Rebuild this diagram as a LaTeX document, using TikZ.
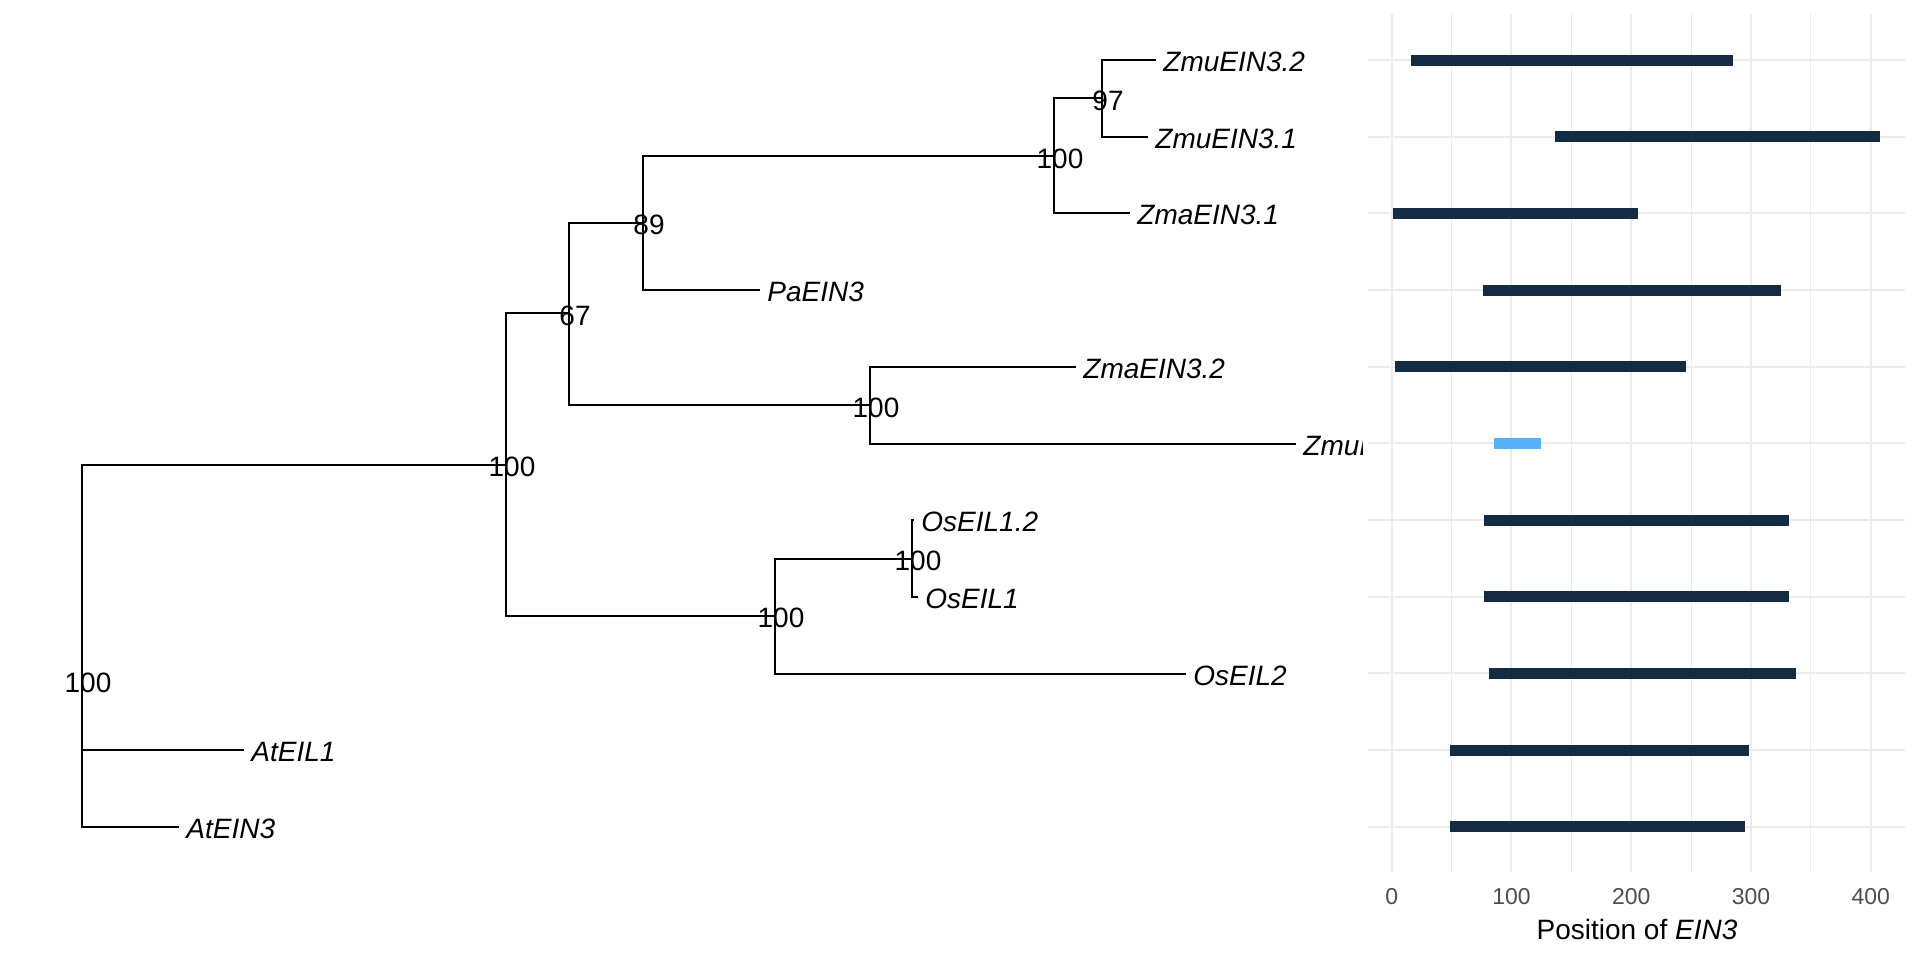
\documentclass[tikz,border=0pt]{standalone}
\usepackage{fontspec}
\setmainfont{Liberation Sans}
\usetikzlibrary{positioning}
\definecolor{barlow}{HTML}{132B43}
\definecolor{barhigh}{HTML}{56B1F7}
\definecolor{gridgray}{HTML}{EBEBEB}
\definecolor{ticktext}{HTML}{4D4D4D}
\tikzset{
x=0.5pt, y=-0.5pt, % one unit is one pixel of the image, y runs downwards
branch/.style={line width=0.9pt, to path={|- (\tikztotarget)}}, % elbow edge of the tree
tip/.style={anchor=base west, inner sep=0pt, xshift=3.5pt, yshift=-5.8pt, font=\fontsize{14}{16}\selectfont\itshape}, % leaf name
boot/.style={inner sep=0pt, xshift=3pt, yshift=-1.25pt, font=\fontsize{14}{16}\selectfont}, % support value at a node
bar/.style={line width=5.5pt, barlow}, % segment in the right panel
majorgrid/.style={line width=1pt, gridgray},
minorgrid/.style={line width=0.5pt, gridgray},
ticklab/.style={inner sep=0pt, text=ticktext, font=\fontsize{11.5}{13}\selectfont},
}

\begin{document}
\begin{tikzpicture}
\useasboundingbox[fill=white] (0,0) rectangle (1920,960);

% right panel: grid, bars and axis
\begin{scope}[xshift=695.85pt, x=0.59875pt]
  \foreach \g in {50,150,250,350} \draw[minorgrid] (\g,14) -- (\g,872);
  \foreach \g in {0,100,...,400} {
    \draw[majorgrid] (\g,14) -- (\g,872);
    \node[ticklab] (tick\g) at (\g,897) {\g};
  }
  \foreach \i in {0,...,10} \draw[majorgrid] (-19.4,60+76.667*\i) -- (428.6,60+76.667*\i);
  \foreach \i/\s/\e in {0/16/285, 1/136/408, 2/1/206, 3/76/325, 4/3/246, 6/77/332, 7/77/332, 8/81/338, 9/49/298, 10/49/295}
    \draw[bar] (\s,60+76.667*\i) -- (\e,60+76.667*\i);
  \draw[bar, barhigh] (85,443.3) -- (125,443.3);
\end{scope}
\node[font=\fontsize{14}{16}\selectfont, inner sep=0pt] (xtitle) at (1637,929) {Position of \textit{EIN3}};

% inner nodes of the tree
\coordinate (root) at (82,680.7);
\coordinate (big) at (506,464.7);
\coordinate (n67) at (569,313.3);
\coordinate (n89) at (643,222.7);
\coordinate (nZm) at (1054,156);
\coordinate (n97) at (1102,98.3);
\coordinate (nZ2) at (870,405.3);
\coordinate (nOs) at (775,615.7);
\coordinate (nOs1) at (912,558.7);
% leaves
\coordinate (zmu32) at (1156,60);
\coordinate (zmu31) at (1148,136.7);
\coordinate (zma31) at (1130,213.3);
\coordinate (pa) at (760,290);
\coordinate (zma32) at (1076,367);
\coordinate (zmu33) at (1296,443.7);
\coordinate (os12) at (914,520.3);
\coordinate (os1) at (918,597);
\coordinate (os2) at (1186,673.7);
\coordinate (at1) at (244,750.3);
\coordinate (at3) at (179,827);

\draw (root) edge[branch] (big) edge[branch] (at1) edge[branch] (at3)
      (big) edge[branch] (n67) edge[branch] (nOs)
      (n67) edge[branch] (n89) edge[branch] (nZ2)
      (n89) edge[branch] (nZm) edge[branch] (pa)
      (nZm) edge[branch] (n97) edge[branch] (zma31)
      (n97) edge[branch] (zmu32) edge[branch] (zmu31)
      (nZ2) edge[branch] (zma32) edge[branch] (zmu33)
      (nOs) edge[branch] (nOs1) edge[branch] (os2)
      (nOs1) edge[branch] (os12) edge[branch] (os1);

\node[tip] (lzmu32) at (zmu32) {ZmuEIN3.2};
\node[tip] (lzmu31) at (zmu31) {ZmuEIN3.1};
\node[tip] (lzma31) at (zma31) {ZmaEIN3.1};
\node[tip] (lpa) at (pa) {PaEIN3};
\node[tip] (lzma32) at (zma32) {ZmaEIN3.2};
\begin{scope}
  \clip (0,0) rectangle (1362,960);
  \node[tip] (lzmu33) at (zmu33) {ZmuEIN3.3};
\end{scope}
\node[tip] (los12) at (os12) {OsEIL1.2};
\node[tip] (los1) at (os1) {OsEIL1};
\node[tip] (los2) at (os2) {OsEIL2};
\node[tip] (lat1) at (at1) {AtEIL1};
\node[tip] (lat3) at (at3) {AtEIN3};

\node[boot] (broot) at (root) {100};
\node[boot] (bbig) at (big) {100};
\node[boot] (b67) at (n67) {67};
\node[boot] (b89) at (n89) {89};
\node[boot] (bZm) at (nZm) {100};
\node[boot] (b97) at (n97) {97};
\node[boot] (bZ2) at (nZ2) {100};
\node[boot] (bOs) at (nOs) {100};
\node[boot] (bOs1) at (nOs1) {100};

\end{tikzpicture}
\end{document}
